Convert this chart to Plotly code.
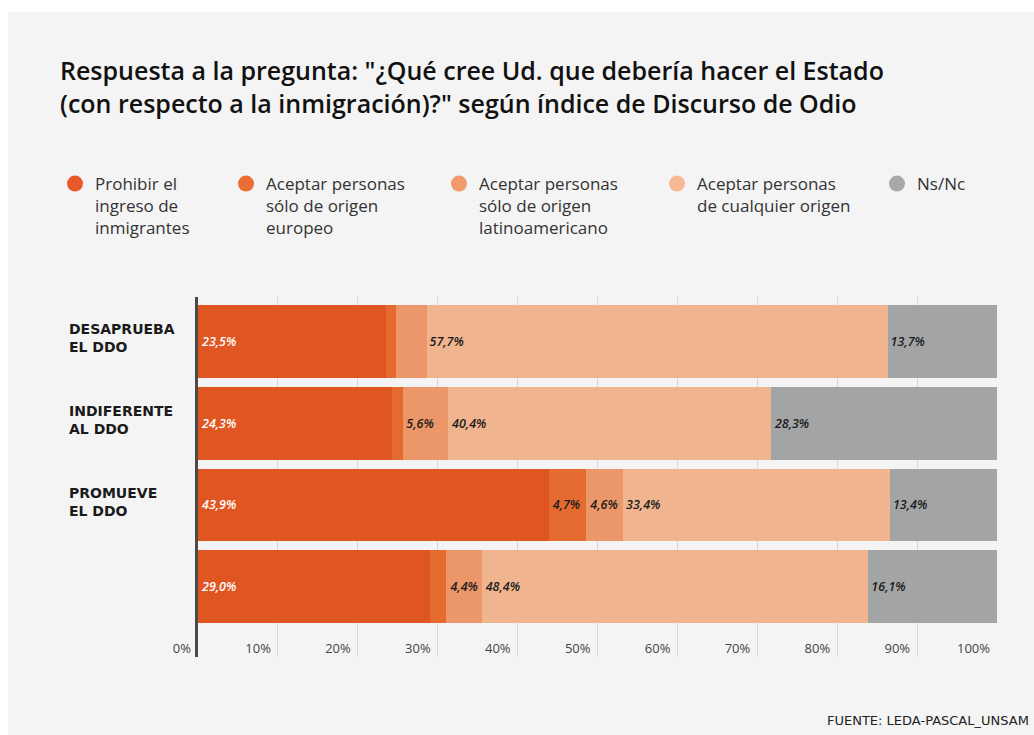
import plotly.graph_objects as go

# Survey answers by attitude towards hate speech (Discurso de Odio, DDO)
groups = ["DESAPRUEBA EL DDO", "INDIFERENTE AL DDO", "PROMUEVE EL DDO", "TOTAL"]
group_labels = ["DESAPRUEBA<br>EL DDO", "INDIFERENTE<br>AL DDO", "PROMUEVE<br>EL DDO", ""]

prohibir = [23.5, 24.3, 43.9, 29.0]
europeo = [1.3, 1.4, 4.7, 2.1]
latino = [3.8, 5.6, 4.6, 4.4]
cualquier = [57.7, 40.4, 33.4, 48.4]
nsnc = [13.7, 28.3, 13.4, 16.1]

series_names = [
    "Prohibir el<br>ingreso de<br>inmigrantes",
    "Aceptar personas<br>sólo de origen<br>europeo",
    "Aceptar personas<br>sólo de origen<br>latinoamericano",
    "Aceptar personas<br>de cualquier origen",
    "Ns/Nc",
]
series_values = [prohibir, europeo, latino, cualquier, nsnc]
bar_colors = ["#e05623", "#e46a30", "#eb9769", "#f0b48f", "#a3a4a5"]
legend_colors = ["#e8592a", "#ea6e33", "#f19c6d", "#f7b994", "#a7a8a9"]
text_colors = ["#ffffff", "#1a1a1a", "#1a1a1a", "#1a1a1a", "#1a1a1a"]

tick_values = list(range(0, 101, 10))
tick_text = [f"{v}%" for v in tick_values]

# plot-area geometry in pixels (used to place paper-referenced decorations)
FIG_W, FIG_H = 1034, 735
L, R, T, B = 198, 997, 297, 657
W, H = R - L, B - T

# left pixel position of each legend entry
legend_x = [55, 226, 439, 657, 877]


def px(x):
    return (x - L) / W


def py(y):
    return (B - y) / H


def fmt(v):
    return f"{v:.1f}".replace(".", ",") + "%"


fig = go.Figure()
for name, vals, col, tcol in zip(series_names, series_values, bar_colors, text_colors):
    fig.add_trace(go.Bar(
        y=groups,
        x=vals,
        orientation="h",
        name=name,
        showlegend=False,
        marker=dict(color=col, line=dict(width=0)),
        text=[fmt(v) if v >= 4 else "" for v in vals],
        textposition="inside",
        insidetextanchor="start",
        textangle=0,
        textfont=dict(family="Open Sans", size=12.5, color=tcol, style="italic", weight=600),
        hoverinfo="skip",
    ))

# circular legend keys, one independent legend per series
legend_layouts = {}
for i, (name, col) in enumerate(zip(series_names, legend_colors)):
    key = "legend" if i == 0 else f"legend{i + 1}"
    fig.add_trace(go.Scatter(
        x=[None], y=[None], mode="markers", name=name,
        marker=dict(color=col, size=16, symbol="circle"),
        legend=key, showlegend=True, hoverinfo="skip",
    ))
    legend_layouts[key] = dict(
        x=px(legend_x[i]), y=py(166), xanchor="left", yanchor="top",
        valign="top", itemclick=False, itemdoubleclick=False,
        font=dict(family="Open Sans", size=17, color="#333333"),
        bgcolor="rgba(0,0,0,0)",
    )

annotations = [
    dict(
        text="Respuesta a la pregunta: \"¿Qué cree Ud. que debería hacer el Estado<br>"
             "(con respecto a la inmigración)?\" según índice de Discurso de Odio",
        xref="paper", yref="paper", x=px(58), y=py(51),
        xanchor="left", yanchor="top", align="left", showarrow=False,
        font=dict(family="Open Sans", size=25, color="#111111", weight=600),
    ),
    dict(
        text="FUENTE: LEDA-PASCAL_UNSAM",
        xref="paper", yref="paper", x=px(1031), y=py(720),
        xanchor="right", yanchor="middle", showarrow=False,
        font=dict(family="DejaVu Sans", size=13, color="#222222"),
    ),
]
for g, lab in zip(groups, group_labels):
    if lab:
        annotations.append(dict(
            text=lab, xref="paper", yref="y", x=px(67), y=g,
            xanchor="left", yanchor="middle", align="left", showarrow=False,
            yshift=3,
            font=dict(family="DejaVu Sans", size=14, color="#1a1a1a", weight="bold"),
        ))

shapes = [
    # light card behind the chart
    dict(type="rect", xref="paper", yref="paper", layer="below",
         x0=px(8), x1=px(FIG_W + 5), y0=py(12), y1=py(FIG_H + 5),
         fillcolor="#f4f4f4", line=dict(width=0)),
]

fig.update_layout(
    width=FIG_W, height=FIG_H,
    paper_bgcolor="#ffffff", plot_bgcolor="rgba(0,0,0,0)",
    margin=dict(l=L, r=FIG_W - R, t=T, b=FIG_H - B, pad=0),
    barmode="stack", bargap=0.11,
    separators=",.",
    showlegend=True,
    annotations=annotations,
    shapes=shapes,
    font=dict(family="Open Sans"),
    **legend_layouts,
)

fig.update_xaxes(
    range=[0, 100], tickmode="array", tickvals=tick_values, ticktext=tick_text,
    ticklabelposition="inside left", ticklabeloverflow="allow",
    ticklabelshift=-7, ticklabelstandoff=-5,
    showgrid=True, gridcolor="#d8d8d8", gridwidth=1,
    zeroline=False, showline=False, ticks="",
    tickfont=dict(family="Open Sans", size=13, color="#444444"),
    fixedrange=True,
)
fig.update_yaxes(
    categoryorder="array", categoryarray=groups,
    range=[3.86, -0.543], showticklabels=False, showgrid=False,
    zeroline=False, showline=True, linecolor="#4a4a4a", linewidth=3,
    ticks="", fixedrange=True,
)

fig.write_html("out.html")
